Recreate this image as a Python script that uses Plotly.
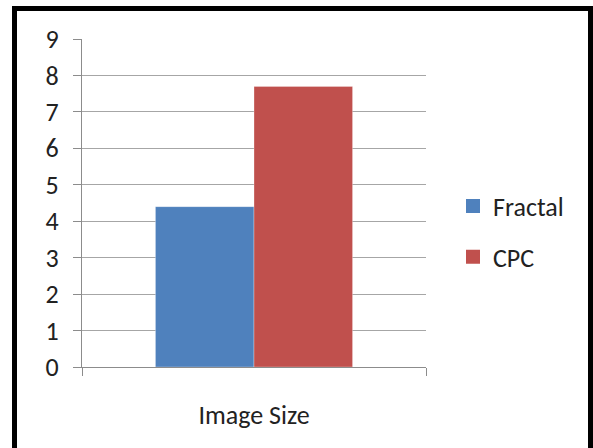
import plotly.graph_objects as go

# Chart data
categories = ["Image Size"]
series_names = ["Fractal", "CPC"]
fractal_values = [4.4]
cpc_values = [7.7]
series_colors = ["#4F81BD", "#C0504D"]

FONT = "Carlito, Lato, 'Open Sans', sans-serif"
W, H = 593, 448
L, R, T, B = 82, 167, 39, 81
plot_w = W - L - R
plot_h = H - T - B


def px_x(px):
    return (px - L) / plot_w


def px_y(py):
    return (H - B - py) / plot_h


fig = go.Figure()
for i, (name, vals) in enumerate(zip(series_names, [fractal_values, cpc_values])):
    fig.add_trace(go.Bar(
        x=categories, y=vals, name=name,
        marker=dict(color=series_colors[i], line=dict(color="rgba(255,255,255,0.6)", width=0.5)),
        legendgroup=name, showlegend=False,
    ))
    # square legend swatch for the series
    fig.add_trace(go.Scatter(
        x=[None], y=[None], mode="markers", name=name,
        marker=dict(symbol="square", size=14, color=series_colors[i]),
        legendgroup=name, showlegend=True,
    ))

fig.update_layout(
    width=W, height=H,
    margin=dict(l=L, r=R, t=T, b=B),
    paper_bgcolor="white", plot_bgcolor="white",
    barmode="group", bargap=0.427, bargroupgap=0,
    font=dict(family=FONT, size=26, color="#222222"),
    showlegend=True,
    legend=dict(x=px_x(453), xanchor="left", y=px_y(231.5), yanchor="middle",
                tracegroupgap=14, font=dict(size=26, color="#222222"),
                itemsizing="trace", bgcolor="rgba(0,0,0,0)"),
    xaxis=dict(type="category", showline=True, linecolor="#8c8c8c", linewidth=1,
               ticks="outside", ticklen=8, tickcolor="#8c8c8c", tickson="boundaries",
               showgrid=False, ticklabelstandoff=25, tickfont=dict(size=26),
               fixedrange=True),
    yaxis=dict(range=[0, 9], dtick=1, showline=True, linecolor="#8c8c8c", linewidth=1,
               ticks="outside", ticklen=8, tickcolor="#8c8c8c",
               showgrid=True, gridcolor="#a6a6a6", gridwidth=1,
               zeroline=False, ticklabelstandoff=9, tickfont=dict(size=26)),
    shapes=[dict(type="rect", xref="paper", yref="paper",
                 x0=px_x(14.5), x1=px_x(590.5), y0=px_y(456), y1=px_y(8.5),
                 line=dict(color="black", width=5), fillcolor="rgba(0,0,0,0)",
                 layer="above")],
)

fig.write_html("out.html")
